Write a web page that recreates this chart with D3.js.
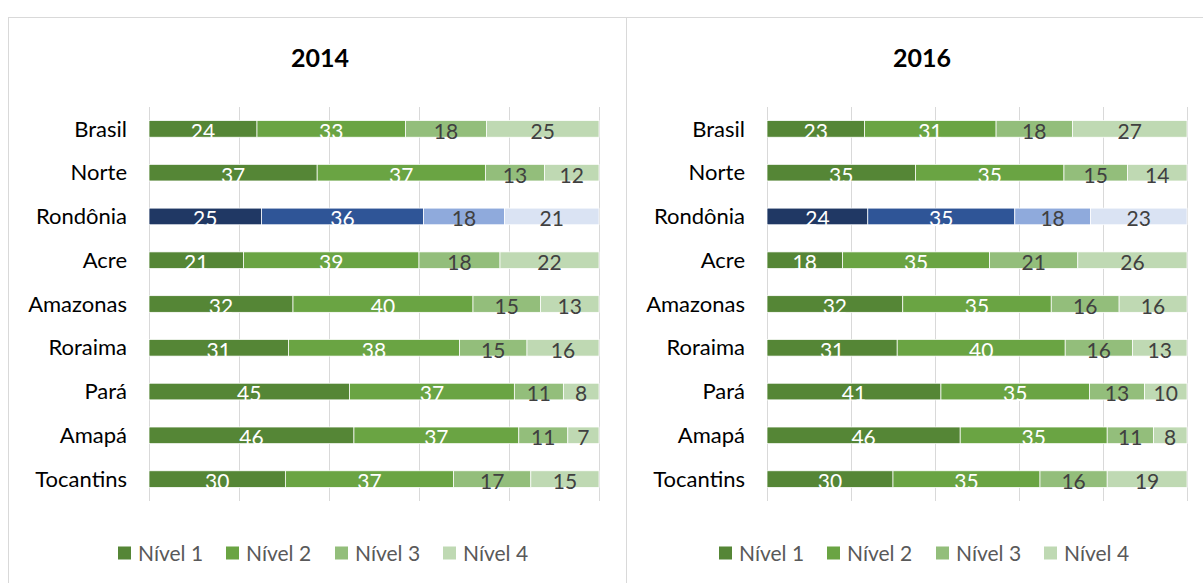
<!DOCTYPE html>
<html>
<head>
<meta charset="utf-8">
<script src="https://cdn.jsdelivr.net/npm/d3@7"></script>
<style>
  body { margin: 0; background: #fff; }
  svg { display: block; font-family: Lato, 'Open Sans', sans-serif; }
</style>
</head>
<body>
<svg id="chart" width="1203" height="583"></svg>
<script>
// Data — percentage of students per proficiency level
const categories = ['Brasil', 'Norte', 'Rondônia', 'Acre', 'Amazonas', 'Roraima', 'Pará', 'Amapá', 'Tocantins'];
const levels = ['Nível 1', 'Nível 2', 'Nível 3', 'Nível 4'];
const years = ['2014', '2016'];

const values2014 = [
  [24, 33, 18, 25],
  [37, 37, 13, 12],
  [25, 36, 18, 21],
  [21, 39, 18, 22],
  [32, 40, 15, 13],
  [31, 38, 15, 16],
  [45, 37, 11, 8],
  [46, 37, 11, 7],
  [30, 37, 17, 15],
];
const values2016 = [
  [23, 31, 18, 27],
  [35, 35, 15, 14],
  [24, 35, 18, 23],
  [18, 35, 21, 26],
  [32, 35, 16, 16],
  [31, 40, 16, 13],
  [41, 35, 13, 10],
  [46, 35, 11, 8],
  [30, 35, 16, 19],
];
const xTicks = [0, 20, 40, 60, 80, 100];

const GREENS = ['#558636', '#6aa443', '#93be7b', '#bfd9b3'];
const BLUES  = ['#203864', '#2f5597', '#8faadc', '#dae3f3'];
const HIGHLIGHT = 'Rondônia';

const svg = d3.select('#chart');

// Outer frame + divider
svg.append('rect')
  .attr('x', 8.5).attr('y', 17.5).attr('width', 1203).attr('height', 600)
  .attr('fill', 'none').attr('stroke', '#d9d9d9');
svg.append('line')
  .attr('x1', 626.5).attr('x2', 626.5).attr('y1', 17).attr('y2', 583)
  .attr('stroke', '#d9d9d9');

const panels = [
  { year: years[0], data: values2014, x0: 149, x1: 599, titleX: 320, legendX: 118 },
  { year: years[1], data: values2016, x0: 767, x1: 1187, titleX: 922, legendX: 719 },
];

panels.forEach(p => {
  const g = svg.append('g');

  const x = d3.scaleLinear().domain([0, 100]).range([p.x0, p.x1]);
  const y = d3.scaleBand().domain(categories).range([107, 501]).paddingInner(0.62).paddingOuter(0.31);

  // title
  g.append('text')
    .attr('x', p.titleX).attr('y', 67)
    .attr('text-anchor', 'middle')
    .attr('font-size', 25).attr('font-weight', 700).attr('fill', '#000')
    .text(p.year);

  // gridlines
  g.selectAll('.grid').data(xTicks).join('line')
    .attr('x1', d => x(d) + 0.5).attr('x2', d => x(d) + 0.5)
    .attr('y1', 107).attr('y2', 501)
    .attr('stroke', '#d9d9d9').attr('stroke-width', 1);

  // category labels
  g.selectAll('.cat').data(categories).join('text')
    .attr('x', p.x0 - 22)
    .attr('y', d => y(d) + y.bandwidth() / 2)
    .attr('dy', '0.35em')
    .attr('text-anchor', 'end')
    .attr('font-size', 22).attr('fill', '#000')
    .text(d => d);

  // stacked 100% rows
  const rows = categories.map((c, i) => {
    const vals = p.data[i];
    const total = d3.sum(vals);
    let acc = 0;
    return vals.map((v, k) => {
      const seg = { cat: c, k, v, a: acc / total * 100, b: (acc + v) / total * 100 };
      acc += v;
      return seg;
    });
  }).flat();

  const pal = d => (d.cat === HIGHLIGHT ? BLUES : GREENS)[d.k];

  g.selectAll('.seg').data(rows).join('rect')
    .attr('x', d => x(d.a))
    .attr('y', d => y(d.cat))
    .attr('width', d => x(d.b) - x(d.a))
    .attr('height', y.bandwidth())
    .attr('fill', pal)
    .attr('stroke', '#fff').attr('stroke-width', 0.75);

  g.selectAll('.val').data(rows).join('text')
    .attr('x', d => (x(d.a) + x(d.b)) / 2)
    .attr('y', d => y(d.cat) + y.bandwidth() / 2)
    .attr('dy', '0.47em')
    .attr('text-anchor', 'middle')
    .attr('font-size', 21)
    .attr('fill', d => d.k < 2 ? '#fff' : '#404040')
    .text(d => d.v);

  // legend
  const leg = g.append('g').attr('transform', `translate(${p.legendX},553)`);
  const spacing = [0, 108, 217, 325];
  levels.forEach((lv, k) => {
    const it = leg.append('g').attr('transform', `translate(${spacing[k]},0)`);
    it.append('rect').attr('x', 0).attr('y', -6.5).attr('width', 13).attr('height', 13)
      .attr('fill', GREENS[k]);
    it.append('text').attr('x', 20).attr('y', 0).attr('dy', '0.36em')
      .attr('font-size', 21).attr('fill', '#595959').text(lv);
  });
});
</script>
</body>
</html>
